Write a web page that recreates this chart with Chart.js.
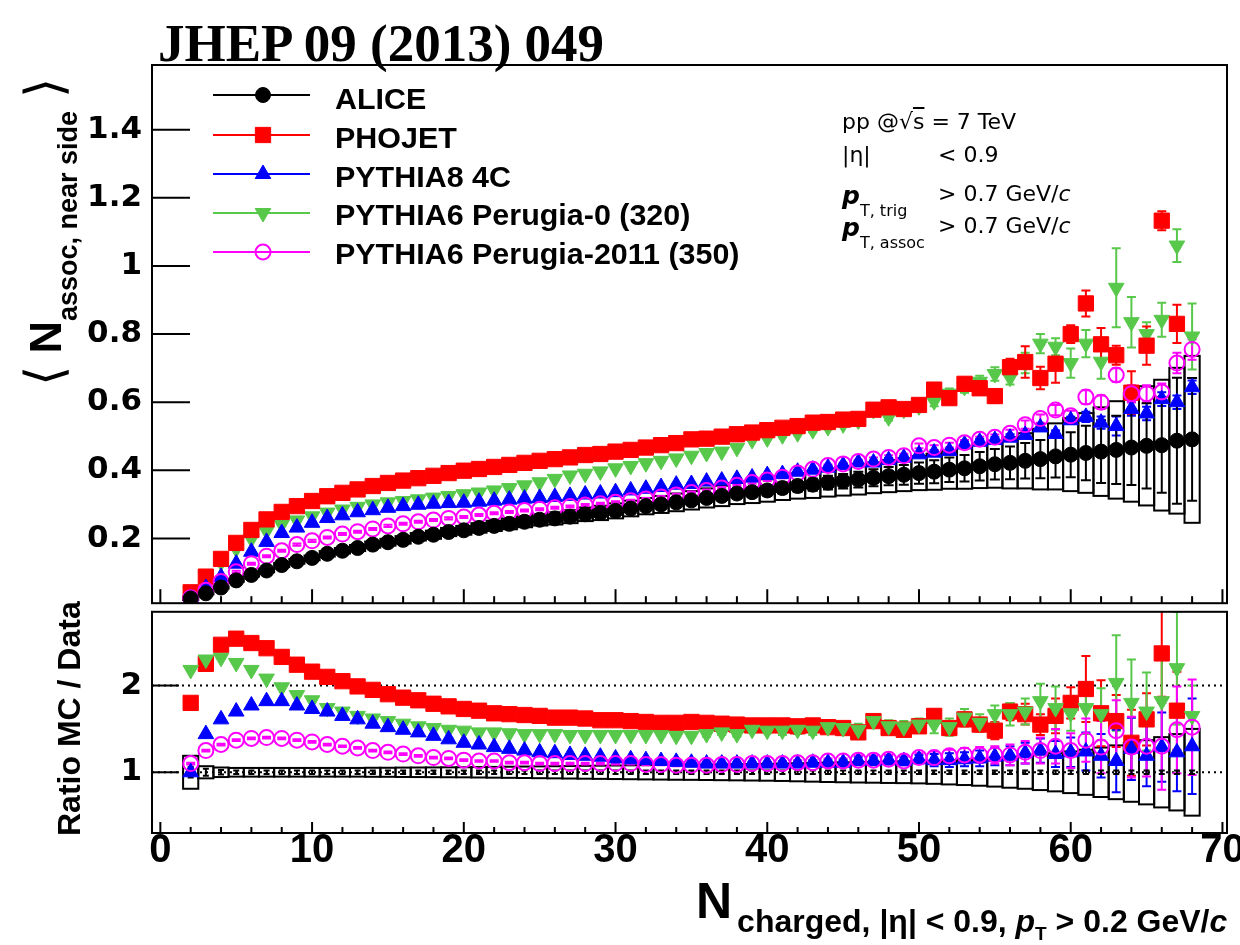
<!DOCTYPE html>
<html>
<head>
<meta charset="utf-8">
<title>Near-side associated yield vs multiplicity</title>
<script src="https://cdn.jsdelivr.net/npm/chart.js@4.4.1/dist/chart.umd.min.js"></script>
<style>
  html, body { margin: 0; padding: 0; background: #fff; overflow: hidden; }
  #page { position: relative; width: 1240px; height: 945px; }
  canvas { position: absolute; left: 0; }
  #cTop { top: 0; }
  #cRatio { top: 600px; }
  .txt { position: absolute; white-space: nowrap; line-height: 1; color: #000; }
  #jhep { left: 158px; top: 13px; font: bold 53px "Liberation Serif", serif; }
  .leg { left: 335px; font: bold 29px "Liberation Sans", sans-serif; transform: scaleX(1.05); transform-origin: 0 0; }
  .info { left: 842px; font: 22px "DejaVu Sans", sans-serif; }
  .info .col { position: absolute; left: 96px; top: 0; }
  .info .pp { font-weight: bold; font-style: italic; font-size: 25px; }
  .info .sub { font-size: 16px; position: relative; top: 12px; }
  .rot { transform-origin: 0 0; transform: rotate(-90deg); }
  #ytop { left: 23px; top: 386px; font: bold 45px "Liberation Sans", sans-serif; line-height: 45px; }
  #ytop .br { font-family: "DejaVu Sans", sans-serif; font-weight: 200; font-size: 52px; position: relative; top: 1px; line-height: 0; }
  #ytop .sub { font-size: 27px; position: relative; top: 16px; line-height: 0; }
  #yratio { left: 51px; top: 836px; font: bold 32px "Liberation Sans", sans-serif; }
  #xtitle { left: 696px; top: 876px; font: bold 50px "Liberation Sans", sans-serif; line-height: 50px; }
  #xtitle .sub { font-size: 32px; position: relative; top: 14px; margin-left: 5px; line-height: 0; }
  #xtitle .sub2 { font-size: 19px; position: relative; top: 8px; line-height: 0; }
</style>
</head>
<body>
<div id="page">
  <canvas id="cTop" width="1240" height="615"></canvas>
  <canvas id="cRatio" width="1240" height="345"></canvas>

  <div class="txt" id="jhep">JHEP 09 (2013) 049</div>

  <div class="txt leg" id="leg0" style="top:83px"></div>
  <div class="txt leg" id="leg1" style="top:122px"></div>
  <div class="txt leg" id="leg2" style="top:161px"></div>
  <div class="txt leg" id="leg3" style="top:199px"></div>
  <div class="txt leg" id="leg4" style="top:238px"></div>

  <div class="txt info" style="top:109px">pp @&#8730;<span style="text-decoration: overline">s</span> = 7 TeV</div>
  <div class="txt info" style="top:142px">|&#951;|<span class="col">&lt; 0.9</span></div>
  <div class="txt info" style="top:181px"><span class="pp">p</span><span class="sub">T, trig</span><span class="col">&gt; 0.7 GeV/<i>c</i></span></div>
  <div class="txt info" style="top:213px"><span class="pp">p</span><span class="sub">T, assoc</span><span class="col">&gt; 0.7 GeV/<i>c</i></span></div>

  <div class="txt rot" id="ytop"><span class="br">&#10216;</span> N<span class="sub">assoc, near side</span> <span class="br">&#10217;</span></div>
  <div class="txt rot" id="yratio">Ratio MC / Data</div>
  <div class="txt" id="xtitle">N<span class="sub">charged, |&#951;| &lt; 0.9, <i>p</i><span class="sub2">T</span> &gt; 0.2 GeV/<i>c</i></span></div>
</div>

<script>
// multiplicity bins
const nCharged = [2, 3, 4, 5, 6, 7, 8, 9, 10, 11,
  12, 13, 14, 15, 16, 17, 18, 19, 20, 21,
  22, 23, 24, 25, 26, 27, 28, 29, 30, 31,
  32, 33, 34, 35, 36, 37, 38, 39, 40, 41,
  42, 43, 44, 45, 46, 47, 48, 49, 50, 51,
  52, 53, 54, 55, 56, 57, 58, 59, 60, 61,
  62, 63, 64, 65, 66, 67, 68];

const seriesNames = ['ALICE', 'PHOJET', 'PYTHIA8 4C', 'PYTHIA6 Perugia-0 (320)', 'PYTHIA6 Perugia-2011 (350)'];

// <N assoc, near side> -- upper panel
const alice = [0.024, 0.039, 0.056, 0.077, 0.093, 0.106, 0.122, 0.133, 0.143, 0.155,
  0.164, 0.172, 0.182, 0.189, 0.196, 0.205, 0.211, 0.219, 0.224, 0.231,
  0.237, 0.243, 0.249, 0.255, 0.259, 0.264, 0.271, 0.275, 0.281, 0.288,
  0.295, 0.300, 0.306, 0.312, 0.319, 0.325, 0.332, 0.336, 0.341, 0.348,
  0.354, 0.358, 0.364, 0.368, 0.373, 0.378, 0.383, 0.387, 0.392, 0.396,
  0.402, 0.406, 0.412, 0.418, 0.422, 0.428, 0.433, 0.441, 0.446, 0.451,
  0.455, 0.460, 0.467, 0.472, 0.474, 0.487, 0.491];
const aliceStat = [0.002, 0.002, 0.002, 0.002, 0.002, 0.002, 0.002, 0.002, 0.002, 0.002,
  0.002, 0.002, 0.002, 0.002, 0.002, 0.002, 0.002, 0.002, 0.002, 0.003,
  0.003, 0.004, 0.004, 0.004, 0.005, 0.005, 0.005, 0.006, 0.006, 0.007,
  0.007, 0.008, 0.009, 0.010, 0.011, 0.012, 0.013, 0.014, 0.015, 0.016,
  0.017, 0.018, 0.020, 0.021, 0.023, 0.025, 0.027, 0.029, 0.031, 0.034,
  0.036, 0.039, 0.042, 0.045, 0.048, 0.052, 0.056, 0.062, 0.066, 0.080,
  0.092, 0.100, 0.110, 0.125, 0.140, 0.185, 0.180];
const aliceSys = [0.005, 0.003, 0.003, 0.004, 0.005, 0.005, 0.006, 0.007, 0.007, 0.008,
  0.008, 0.009, 0.009, 0.010, 0.011, 0.011, 0.012, 0.012, 0.013, 0.014,
  0.015, 0.016, 0.016, 0.017, 0.018, 0.019, 0.020, 0.021, 0.022, 0.023,
  0.024, 0.025, 0.026, 0.027, 0.028, 0.030, 0.031, 0.032, 0.033, 0.035,
  0.037, 0.039, 0.041, 0.042, 0.044, 0.045, 0.047, 0.048, 0.050, 0.053,
  0.056, 0.060, 0.064, 0.069, 0.075, 0.081, 0.089, 0.097, 0.107, 0.117,
  0.130, 0.143, 0.159, 0.175, 0.192, 0.214, 0.245];

const phojet = [0.042, 0.088, 0.140, 0.187, 0.225, 0.256, 0.278, 0.295, 0.310, 0.324,
  0.334, 0.344, 0.354, 0.363, 0.370, 0.377, 0.384, 0.392, 0.399, 0.404,
  0.410, 0.416, 0.422, 0.428, 0.433, 0.438, 0.445, 0.448, 0.455, 0.460,
  0.467, 0.474, 0.480, 0.491, 0.493, 0.499, 0.506, 0.511, 0.518, 0.525,
  0.530, 0.540, 0.542, 0.549, 0.551, 0.578, 0.585, 0.580, 0.592, 0.637,
  0.612, 0.654, 0.641, 0.618, 0.703, 0.718, 0.671, 0.713, 0.800, 0.890,
  0.770, 0.738, 0.628, 0.766, 1.133, 0.830, null];
const phojetErr = [0.003, 0.003, 0.003, 0.003, 0.003, 0.003, 0.003, 0.003, 0.003, 0.003,
  0.003, 0.003, 0.003, 0.003, 0.003, 0.003, 0.003, 0.003, 0.003, 0.003,
  0.003, 0.003, 0.003, 0.003, 0.003, 0.003, 0.003, 0.003, 0.003, 0.003,
  0.003, 0.003, 0.003, 0.003, 0.003, 0.003, 0.003, 0.003, 0.003, 0.005,
  0.005, 0.005, 0.005, 0.005, 0.008, 0.008, 0.010, 0.010, 0.010, 0.015,
  0.015, 0.018, 0.018, 0.020, 0.025, 0.046, 0.033, 0.056, 0.026, 0.038,
  0.048, 0.028, 0.063, 0.056, 0.028, 0.056, 0];

const pythia8 = [0.025, 0.055, 0.087, 0.126, 0.161, 0.190, 0.216, 0.232, 0.246, 0.260,
  0.268, 0.277, 0.283, 0.290, 0.295, 0.299, 0.302, 0.304, 0.305, 0.308,
  0.311, 0.314, 0.317, 0.319, 0.322, 0.325, 0.329, 0.332, 0.336, 0.341,
  0.346, 0.351, 0.358, 0.360, 0.367, 0.370, 0.375, 0.379, 0.386, 0.389,
  0.396, 0.402, 0.408, 0.415, 0.423, 0.423, 0.430, 0.437, 0.447, 0.452,
  0.457, 0.476, 0.484, 0.489, 0.496, 0.504, 0.526, 0.507, 0.547, 0.557,
  0.540, 0.530, 0.580, 0.567, 0.609, 0.600, 0.644];
const pythia8Err = [0.003, 0.003, 0.003, 0.003, 0.003, 0.003, 0.003, 0.003, 0.003, 0.003,
  0.003, 0.003, 0.003, 0.003, 0.003, 0.003, 0.003, 0.003, 0.003, 0.003,
  0.003, 0.003, 0.003, 0.003, 0.003, 0.003, 0.003, 0.003, 0.003, 0.003,
  0.003, 0.003, 0.003, 0.003, 0.003, 0.003, 0.003, 0.003, 0.003, 0.003,
  0.003, 0.003, 0.003, 0.003, 0.005, 0.005, 0.006, 0.006, 0.006, 0.007,
  0.007, 0.008, 0.008, 0.008, 0.010, 0.010, 0.010, 0.010, 0.010, 0.015,
  0.018, 0.028, 0.020, 0.020, 0.020, 0.020, 0.020];

const perugia0 = [0.045, 0.089, 0.130, 0.170, 0.199, 0.222, 0.241, 0.253, 0.265, 0.276,
  0.285, 0.293, 0.300, 0.306, 0.310, 0.315, 0.320, 0.325, 0.330, 0.335,
  0.341, 0.348, 0.356, 0.365, 0.375, 0.385, 0.390, 0.397, 0.406, 0.413,
  0.421, 0.428, 0.435, 0.443, 0.451, 0.455, 0.466, 0.489, 0.494, 0.503,
  0.509, 0.518, 0.527, 0.535, 0.546, 0.577, 0.556, 0.578, 0.588, 0.603,
  0.625, 0.645, 0.660, 0.683, 0.672, 0.715, 0.772, 0.763, 0.715, 0.772,
  0.719, 0.936, 0.835, 0.800, 0.842, 1.060, 0.793];
const perugia0Err = [0.003, 0.003, 0.003, 0.003, 0.003, 0.003, 0.003, 0.003, 0.003, 0.003,
  0.003, 0.003, 0.003, 0.003, 0.003, 0.003, 0.003, 0.003, 0.003, 0.003,
  0.003, 0.003, 0.003, 0.003, 0.003, 0.003, 0.003, 0.003, 0.003, 0.003,
  0.003, 0.003, 0.003, 0.003, 0.003, 0.003, 0.003, 0.003, 0.003, 0.006,
  0.006, 0.007, 0.007, 0.008, 0.009, 0.010, 0.010, 0.011, 0.012, 0.015,
  0.015, 0.017, 0.018, 0.020, 0.020, 0.030, 0.028, 0.025, 0.043, 0.040,
  0.050, 0.116, 0.074, 0.035, 0.050, 0.048, 0.097];

const perugia2011 = [0.026, 0.048, 0.074, 0.102, 0.126, 0.148, 0.164, 0.182, 0.193, 0.203,
  0.213, 0.220, 0.228, 0.237, 0.243, 0.249, 0.254, 0.259, 0.263, 0.269,
  0.274, 0.278, 0.282, 0.286, 0.290, 0.294, 0.298, 0.302, 0.306, 0.311,
  0.316, 0.322, 0.328, 0.335, 0.341, 0.348, 0.356, 0.364, 0.372, 0.380,
  0.392, 0.403, 0.414, 0.419, 0.426, 0.433, 0.438, 0.443, 0.472, 0.467,
  0.474, 0.481, 0.491, 0.497, 0.509, 0.534, 0.552, 0.577, 0.560, 0.615,
  0.600, 0.680, 0.625, 0.625, 0.630, 0.715, 0.755];
const perugia2011Err = [0.003, 0.003, 0.003, 0.003, 0.003, 0.003, 0.003, 0.003, 0.003, 0.003,
  0.003, 0.003, 0.003, 0.003, 0.003, 0.003, 0.003, 0.003, 0.003, 0.003,
  0.003, 0.003, 0.003, 0.003, 0.003, 0.003, 0.003, 0.003, 0.003, 0.003,
  0.003, 0.003, 0.003, 0.003, 0.003, 0.003, 0.003, 0.003, 0.003, 0.003,
  0.003, 0.003, 0.003, 0.003, 0.005, 0.005, 0.006, 0.006, 0.007, 0.007,
  0.007, 0.008, 0.008, 0.008, 0.010, 0.012, 0.012, 0.015, 0.015, 0.020,
  0.020, 0.020, 0.025, 0.025, 0.025, 0.030, 0.030];

// MC / data -- lower panel
const dataRatio = [1, 1, 1, 1, 1, 1, 1, 1, 1, 1,
  1, 1, 1, 1, 1, 1, 1, 1, 1, 1,
  1, 1, 1, 1, 1, 1, 1, 1, 1, 1,
  1, 1, 1, 1, 1, 1, 1, 1, 1, 1,
  1, 1, 1, 1, 1, 1, 1, 1, 1, 1,
  1, 1, 1, 1, 1, 1, 1, 1, 1, 1,
  1, 1, 1, 1, 1, 1, 1];
const dataRatioStat = [0.060, 0.040, 0.025, 0.020, 0.020, 0.020, 0.020, 0.020, 0.020, 0.020,
  0.020, 0.020, 0.020, 0.020, 0.020, 0.020, 0.020, 0.020, 0.020, 0.020,
  0.020, 0.020, 0.020, 0.020, 0.020, 0.020, 0.020, 0.020, 0.020, 0.020,
  0.020, 0.020, 0.020, 0.020, 0.020, 0.020, 0.020, 0.020, 0.020, 0.020,
  0.020, 0.020, 0.020, 0.020, 0.020, 0.020, 0.020, 0.020, 0.020, 0.020,
  0.020, 0.020, 0.020, 0.020, 0.020, 0.020, 0.020, 0.020, 0.020, 0.020,
  0.020, 0.020, 0.020, 0.020, 0.020, 0.020, 0.020];
const dataRatioSys = [0.190, 0.070, 0.055, 0.050, 0.050, 0.050, 0.050, 0.050, 0.050, 0.050,
  0.050, 0.050, 0.052, 0.052, 0.054, 0.055, 0.056, 0.057, 0.058, 0.060,
  0.062, 0.064, 0.066, 0.068, 0.070, 0.072, 0.074, 0.076, 0.078, 0.080,
  0.082, 0.084, 0.086, 0.087, 0.089, 0.091, 0.093, 0.095, 0.097, 0.100,
  0.104, 0.108, 0.112, 0.115, 0.118, 0.120, 0.123, 0.125, 0.128, 0.133,
  0.140, 0.147, 0.155, 0.165, 0.178, 0.190, 0.205, 0.220, 0.240, 0.260,
  0.285, 0.310, 0.340, 0.370, 0.405, 0.440, 0.500];

const phojetRatio = [1.80, 2.25, 2.47, 2.54, 2.49, 2.43, 2.33, 2.24, 2.16, 2.10,
  2.05, 1.99, 1.95, 1.90, 1.86, 1.83, 1.79, 1.76, 1.73, 1.71,
  1.68, 1.67, 1.66, 1.65, 1.63, 1.63, 1.62, 1.60, 1.60, 1.59,
  1.58, 1.57, 1.57, 1.58, 1.57, 1.56, 1.55, 1.54, 1.54, 1.54,
  1.53, 1.54, 1.52, 1.51, 1.46, 1.59, 1.51, 1.49, 1.53, 1.65,
  1.51, 1.61, 1.55, 1.48, 1.70, 1.67, 1.55, 1.65, 1.80, 1.96,
  1.68, 1.59, 1.34, 1.61, 2.37, 1.71, null];
const phojetRatioErr = [0.01, 0.01, 0.01, 0.01, 0.01, 0.01, 0.01, 0.01, 0.01, 0.01,
  0.01, 0.01, 0.01, 0.01, 0.01, 0.01, 0.01, 0.01, 0.01, 0.01,
  0.01, 0.01, 0.01, 0.01, 0.01, 0.01, 0.01, 0.01, 0.01, 0.01,
  0.01, 0.01, 0.01, 0.01, 0.01, 0.01, 0.01, 0.01, 0.01, 0.03,
  0.03, 0.03, 0.03, 0.03, 0.05, 0.06, 0.05, 0.05, 0.06, 0.07,
  0.07, 0.08, 0.08, 0.10, 0.10, 0.12, 0.12, 0.20, 0.18, 0.38,
  0.38, 0.30, 0.38, 0.30, 0.50, 0.45, 0];

const pythia8Ratio = [1.00, 1.44, 1.61, 1.70, 1.77, 1.82, 1.82, 1.77, 1.73, 1.70,
  1.65, 1.61, 1.56, 1.52, 1.49, 1.46, 1.42, 1.38, 1.34, 1.32,
  1.29, 1.27, 1.25, 1.23, 1.22, 1.20, 1.19, 1.18, 1.16, 1.15,
  1.14, 1.13, 1.12, 1.11, 1.10, 1.10, 1.10, 1.10, 1.10, 1.10,
  1.10, 1.11, 1.11, 1.11, 1.13, 1.13, 1.14, 1.13, 1.15, 1.14,
  1.14, 1.15, 1.16, 1.18, 1.19, 1.22, 1.25, 1.21, 1.23, 1.24,
  1.19, 1.13, 1.27, 1.19, 1.29, 1.23, 1.30];
const pythia8RatioErr = [0.01, 0.01, 0.01, 0.01, 0.01, 0.01, 0.01, 0.01, 0.01, 0.01,
  0.01, 0.01, 0.01, 0.01, 0.01, 0.01, 0.01, 0.01, 0.01, 0.01,
  0.01, 0.01, 0.01, 0.01, 0.01, 0.01, 0.01, 0.01, 0.01, 0.01,
  0.01, 0.01, 0.01, 0.01, 0.01, 0.01, 0.01, 0.01, 0.01, 0.03,
  0.03, 0.03, 0.03, 0.03, 0.05, 0.05, 0.05, 0.05, 0.05, 0.07,
  0.08, 0.08, 0.09, 0.10, 0.11, 0.12, 0.14, 0.15, 0.17, 0.22,
  0.25, 0.36, 0.36, 0.35, 0.40, 0.45, 0.55];

const perugia0Ratio = [2.18, 2.30, 2.32, 2.26, 2.18, 2.08, 1.98, 1.89, 1.83, 1.74,
  1.70, 1.65, 1.62, 1.59, 1.56, 1.53, 1.51, 1.49, 1.48, 1.46,
  1.46, 1.45, 1.44, 1.44, 1.44, 1.43, 1.43, 1.43, 1.43, 1.43,
  1.43, 1.43, 1.42, 1.42, 1.44, 1.46, 1.44, 1.49, 1.48, 1.48,
  1.49, 1.48, 1.52, 1.51, 1.49, 1.59, 1.53, 1.52, 1.55, 1.55,
  1.52, 1.63, 1.57, 1.67, 1.67, 1.70, 1.82, 1.74, 1.68, 1.74,
  1.67, 2.03, 1.80, 1.70, 1.82, 2.20, 1.65];
const perugia0RatioErr = [0.01, 0.01, 0.01, 0.01, 0.01, 0.01, 0.01, 0.01, 0.01, 0.01,
  0.01, 0.01, 0.01, 0.01, 0.01, 0.01, 0.01, 0.01, 0.01, 0.01,
  0.01, 0.01, 0.01, 0.01, 0.01, 0.01, 0.01, 0.01, 0.01, 0.01,
  0.01, 0.01, 0.01, 0.01, 0.03, 0.03, 0.03, 0.03, 0.03, 0.05,
  0.05, 0.05, 0.05, 0.05, 0.07, 0.07, 0.07, 0.07, 0.07, 0.10,
  0.10, 0.10, 0.10, 0.10, 0.13, 0.15, 0.20, 0.25, 0.20, 0.30,
  0.30, 0.55, 0.50, 0.45, 0.55, 0.65, 0.35];

const perugia2011Ratio = [1.10, 1.25, 1.32, 1.37, 1.39, 1.40, 1.39, 1.37, 1.35, 1.32,
  1.30, 1.28, 1.25, 1.23, 1.21, 1.19, 1.17, 1.16, 1.14, 1.13,
  1.13, 1.11, 1.11, 1.10, 1.10, 1.10, 1.10, 1.10, 1.10, 1.10,
  1.09, 1.09, 1.08, 1.08, 1.08, 1.09, 1.09, 1.10, 1.10, 1.10,
  1.11, 1.11, 1.13, 1.13, 1.14, 1.14, 1.15, 1.13, 1.17, 1.17,
  1.19, 1.20, 1.20, 1.20, 1.20, 1.23, 1.25, 1.30, 1.25, 1.37,
  1.29, 1.48, 1.29, 1.30, 1.30, 1.49, 1.52];
const perugia2011RatioErr = [0.01, 0.01, 0.01, 0.01, 0.01, 0.01, 0.01, 0.01, 0.01, 0.01,
  0.01, 0.01, 0.01, 0.01, 0.01, 0.01, 0.01, 0.01, 0.01, 0.01,
  0.01, 0.01, 0.01, 0.01, 0.01, 0.01, 0.01, 0.01, 0.01, 0.01,
  0.01, 0.01, 0.01, 0.01, 0.01, 0.01, 0.01, 0.01, 0.01, 0.03,
  0.03, 0.03, 0.03, 0.03, 0.05, 0.05, 0.05, 0.05, 0.05, 0.07,
  0.07, 0.08, 0.09, 0.10, 0.12, 0.13, 0.15, 0.20, 0.20, 0.25,
  0.30, 0.35, 0.35, 0.35, 0.50, 0.50, 0.55];

// axes
const xTicks = [0, 10, 20, 30, 40, 50, 60, 70];
const yTopTicks = [0.2, 0.4, 0.6, 0.8, 1, 1.2, 1.4];
const yRatioTicks = [1, 2];
const xRange = [-0.55, 70.3];
const yTopRange = [0.01, 1.59];
const yRatioRange = [0.3, 2.85];

// marker styles, ROOT-like
const marker = {
  alice:  { color: '#000000', fill: '#000000', style: 'circle',   radius: 7.5,  rot: 0,   bw: 1 },
  phojet: { color: '#ff0000', fill: '#ff0000', style: 'rect',     radius: 10.8, rot: 0,   bw: 1 },
  py8:    { color: '#0000ff', fill: '#0000ff', style: 'triangle', radius: 9,    rot: 0,   bw: 1 },
  p0:     { color: '#58c84b', fill: '#58c84b', style: 'triangle', radius: 9,    rot: 180, bw: 1 },
  p2011:  { color: '#ff00ff', fill: 'rgba(0,0,0,0)', style: 'circle', radius: 7.5, rot: 0, bw: 2 }
};

seriesNames.forEach((s, i) => { document.getElementById('leg' + i).textContent = s; });

function dset(label, vals, m, extra) {
  return Object.assign({
    label: label,
    data: nCharged.map((n, i) => ({ x: n, y: vals[i] })),
    showLine: false,
    pointStyle: m.style,
    pointRadius: m.radius,
    pointHoverRadius: m.radius,
    pointRotation: m.rot,
    pointBackgroundColor: m.fill,
    pointBorderColor: m.color,
    pointBorderWidth: m.bw,
    errColor: m.color
  }, extra);
}

function line(ctx, x0, y0, x1, y1) {
  ctx.beginPath();
  ctx.moveTo(x0, y0);
  ctx.lineTo(x1, y1);
  ctx.stroke();
}

// error bars, syst boxes, frame and inward ticks
const rootPlot = {
  id: 'rootPlot',
  beforeDatasetsDraw(chart, args, opts) {
    const { ctx, chartArea: a } = chart;
    const xs = chart.scales.x, ys = chart.scales.y;
    ctx.save();
    ctx.beginPath();
    ctx.rect(a.left, a.top, a.right - a.left, a.bottom - a.top);
    ctx.clip();

    ctx.strokeStyle = '#000';
    ctx.lineWidth = 2;
    ctx.setLineDash([2, 4]);
    (opts.refLines || []).forEach(v => {
      const py = ys.getPixelForValue(v);
      line(ctx, a.left, py, a.right, py);
    });
    ctx.setLineDash([]);

    chart.data.datasets.forEach(ds => {
      if (!ds.sys) return;
      ctx.strokeStyle = '#000';
      ctx.lineWidth = 2;
      ds.data.forEach((p, j) => {
        if (p.y == null) return;
        const x0 = xs.getPixelForValue(p.x - 0.5), x1 = xs.getPixelForValue(p.x + 0.5);
        const y0 = ys.getPixelForValue(p.y + ds.sys[j]), y1 = ys.getPixelForValue(p.y - ds.sys[j]);
        ctx.strokeRect(x0, y0, x1 - x0, y1 - y0);
      });
    });

    const withErr = chart.data.datasets.filter(ds => ds.err).sort((a, b) => (b.order || 0) - (a.order || 0));
    withErr.forEach(ds => {
      ctx.strokeStyle = ds.errColor;
      ctx.lineWidth = 2;
      const cap = ds.capHalf || 4.5;
      ds.data.forEach((p, j) => {
        const e = ds.err[j];
        if (p.y == null || !e) return;
        const px = xs.getPixelForValue(p.x);
        const yt = ys.getPixelForValue(p.y + e), yb = ys.getPixelForValue(p.y - e);
        ctx.beginPath();
        ctx.moveTo(px, yt); ctx.lineTo(px, yb);
        ctx.moveTo(px - cap, yt); ctx.lineTo(px + cap, yt);
        ctx.moveTo(px - cap, yb); ctx.lineTo(px + cap, yb);
        ctx.stroke();
      });
    });
    ctx.restore();
  },
  afterDatasetsDraw(chart, args, opts) {
    if (!opts.legend) return;
    const ctx = chart.ctx;
    ctx.save();
    opts.legend.forEach(r => {
      const m = r.m;
      ctx.strokeStyle = m.color;
      ctx.lineWidth = 2;
      line(ctx, 213, r.y, 310, r.y);
      ctx.fillStyle = m.fill;
      ctx.lineWidth = m.bw;
      Chart.helpers.drawPoint(ctx, { pointStyle: m.style, rotation: m.rot, radius: m.radius, borderWidth: m.bw }, 263, r.y);
    });
    ctx.restore();
  },
  afterDraw(chart, args, opts) {
    const { ctx, chartArea: a } = chart;
    const xs = chart.scales.x, ys = chart.scales.y;
    ctx.save();
    ctx.strokeStyle = '#000';
    ctx.lineWidth = 2;
    ctx.strokeRect(a.left, a.top, a.right - a.left, a.bottom - a.top);
    opts.yTicks.forEach(v => {
      const py = ys.getPixelForValue(v);
      line(ctx, a.left, py, a.left + opts.yTickLen, py);
    });
    for (let v = 0; v <= 70; v += 2) {
      const px = xs.getPixelForValue(v);
      const len = v % 10 === 0 ? opts.xMajor : opts.xMinor;
      line(ctx, px, a.bottom, px, a.bottom - len);
    }
    ctx.restore();
  }
};

const tickFontY = { family: 'DejaVu Sans', weight: 'bold', size: 31 };

function yAxis(range, ticks) {
  return {
    type: 'linear', min: range[0], max: range[1],
    afterBuildTicks: s => { s.ticks = ticks.map(v => ({ value: v })); },
    afterFit: s => { s.width = 152; s.paddingTop = 0; s.paddingBottom = 0; },
    grid: { display: false, drawTicks: false },
    border: { display: false },
    ticks: { padding: 10, color: '#000', font: tickFontY, callback: v => String(+Number(v).toFixed(2)) }
  };
}

const common = {
  responsive: false,
  animation: false,
  devicePixelRatio: 1,
  events: []
};

new Chart(document.getElementById('cTop'), {
  type: 'scatter',
  data: {
    datasets: [
      dset(seriesNames[0], alice, marker.alice, { order: 1, err: aliceStat, sys: aliceSys, capHalf: 5 }),
      dset(seriesNames[4], perugia2011, marker.p2011, { order: 2, err: perugia2011Err }),
      dset(seriesNames[2], pythia8, marker.py8, { order: 3, err: pythia8Err }),
      dset(seriesNames[1], phojet, marker.phojet, { order: 4, err: phojetErr }),
      dset(seriesNames[3], perugia0, marker.p0, { order: 5, err: perugia0Err })
    ]
  },
  options: Object.assign({}, common, {
    layout: { padding: { left: 0, right: 13, top: 65, bottom: 5 } },
    plugins: {
      legend: { display: false },
      tooltip: { enabled: false },
      rootPlot: {
        yTicks: yTopTicks, yTickLen: 38, xMajor: 14, xMinor: 7,
        legend: [
          { m: marker.alice, y: 95 },
          { m: marker.phojet, y: 135 },
          { m: marker.py8, y: 174 },
          { m: marker.p0, y: 213 },
          { m: marker.p2011, y: 252 }
        ]
      }
    },
    scales: {
      x: { type: 'linear', min: xRange[0], max: xRange[1], display: false },
      y: yAxis(yTopRange, yTopTicks)
    }
  }),
  plugins: [rootPlot]
});

new Chart(document.getElementById('cRatio'), {
  type: 'scatter',
  data: {
    datasets: [
      dset('ALICE', dataRatio, marker.alice, { order: 1, pointRadius: 0, pointHoverRadius: 0, err: dataRatioStat, sys: dataRatioSys, capHalf: 3 }),
      dset(seriesNames[4], perugia2011Ratio, marker.p2011, { order: 2, err: perugia2011RatioErr }),
      dset(seriesNames[2], pythia8Ratio, marker.py8, { order: 3, err: pythia8RatioErr }),
      dset(seriesNames[3], perugia0Ratio, marker.p0, { order: 4, err: perugia0RatioErr }),
      dset(seriesNames[1], phojetRatio, marker.phojet, { order: 5, err: phojetRatioErr })
    ]
  },
  options: Object.assign({}, common, {
    layout: { padding: { left: 0, right: 13, top: 10, bottom: 0 } },
    plugins: {
      legend: { display: false },
      tooltip: { enabled: false },
      rootPlot: { yTicks: yRatioTicks, yTickLen: 27, xMajor: 11, xMinor: 6, refLines: [1, 2] }
    },
    scales: {
      x: {
        type: 'linear', min: xRange[0], max: xRange[1],
        afterBuildTicks: s => { s.ticks = xTicks.map(v => ({ value: v })); },
        afterFit: s => { s.height = 112; s.paddingLeft = 0; s.paddingRight = 0; },
        grid: { display: false, drawTicks: false },
        border: { display: false },
        ticks: {
          padding: 0, autoSkip: false, maxRotation: 0, minRotation: 0, color: '#000',
          font: { family: 'Liberation Sans', weight: 'bold', size: 40, lineHeight: 0.9 },
          callback: v => String(v)
        }
      },
      y: yAxis(yRatioRange, yRatioTicks)
    }
  }),
  plugins: [rootPlot]
});
</script>
</body>
</html>
